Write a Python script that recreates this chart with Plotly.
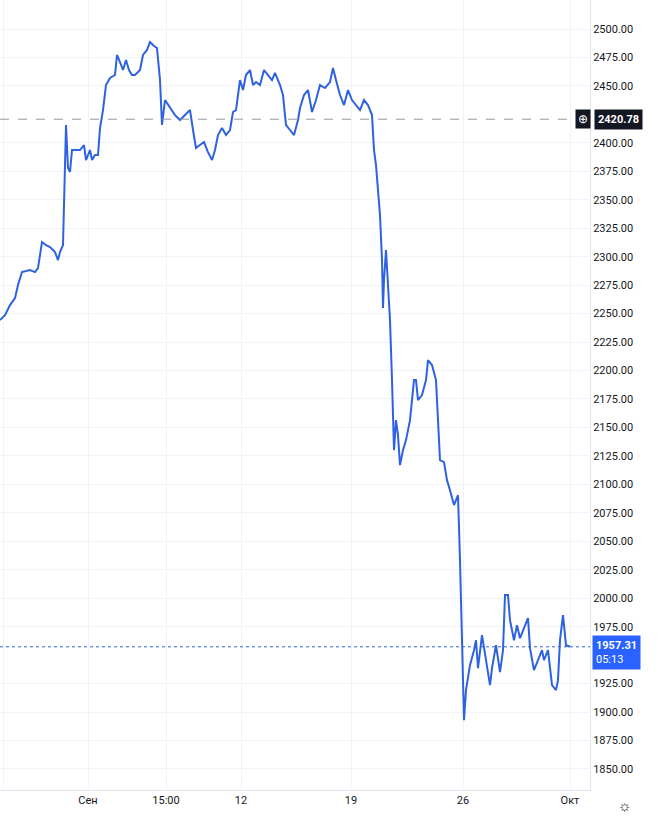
import plotly.graph_objects as go

bar_idx = [0,5,10,15,18,22,30,35,38,42,46,50,55,58,60,63,66,68,70,72,76,80,84,86,90,92,95,98,100,103,106,110,115,117,120,123,126,129,132,135,140,143,147,150,154,157,160,162,165,170,175,180,185,190,193,196,200,204,208,212,215,218,222,226,230,233,236,240,243,246,250,253,256,260,264,268,272,275,280,283,286,290,294,298,300,304,308,312,316,320,325,330,333,336,340,344,348,352,356,360,364,368,372,374,376,378,380,382,383,384,386,388,390,392,394,396,398,400,403,406,410,414,416,418,422,426,428,432,436,438,440,444,447,450,454,456,458,460,462,464,466,470,474,476,478,482,486,490,492,496,500,503,505,508,510,514,517,520,524,528,530,534,538,542,544,548,552,556,558,560,563,566,570]
close = [2244.3,2248.7,2257.5,2263.6,2275.1,2286.5,2288.3,2286.5,2290.0,2312.9,2310.2,2308.5,2304.1,2297.0,2304.1,2310.2,2415.7,2377.9,2374.4,2393.7,2393.7,2393.7,2398.1,2384.9,2393.7,2384.9,2389.3,2389.3,2413.0,2428.8,2450.8,2457.0,2459.6,2477.2,2471.0,2464.0,2472.8,2464.0,2459.6,2459.6,2464.0,2477.2,2481.6,2488.6,2485.1,2483.3,2455.2,2415.7,2437.6,2430.6,2424.4,2420.1,2424.4,2428.8,2411.3,2395.5,2398.1,2400.7,2391.9,2384.9,2393.7,2406.9,2413.0,2406.9,2411.3,2427.1,2428.8,2455.2,2446.4,2459.6,2464.0,2450.8,2453.4,2450.8,2464.0,2459.6,2455.2,2461.4,2450.8,2442.0,2415.7,2411.3,2406.9,2420.1,2430.6,2442.0,2446.4,2427.1,2437.6,2450.8,2448.2,2453.4,2465.7,2455.2,2442.0,2433.2,2446.4,2437.6,2433.2,2428.8,2437.6,2433.2,2424.4,2393.7,2380.5,2358.5,2336.6,2297.0,2254.9,2279.5,2305.8,2275.1,2244.3,2191.6,2130.1,2156.4,2143.3,2116.9,2130.1,2138.9,2156.4,2191.6,2191.6,2174.0,2178.4,2191.6,2209.2,2204.8,2191.6,2156.4,2121.3,2119.5,2103.7,2094.9,2081.8,2086.1,2090.5,2033.4,1954.3,1892.8,1919.2,1941.2,1954.3,1963.1,1938.5,1967.5,1945.6,1923.6,1938.5,1958.7,1935.0,1954.3,2002.7,2002.7,1980.7,1963.1,1976.3,1964.9,1973.7,1982.5,1956.1,1936.8,1945.6,1954.3,1945.6,1954.3,1923.6,1919.2,1928.0,1963.1,1985.1,1958.7,1957.31]
tick_pos = [3,88,166,241,351,463,570]
tick_text = ["6","Сен","15:00","12","19","26","Окт"]
y_ticks = [v for v in range(1850, 2526, 25) if v not in (1950, 2425)]
last_price = 1957.31
ref_price = 2420.78

fig = go.Figure()
fig.add_trace(go.Scatter(x=bar_idx, y=close, mode="lines",
                         line=dict(color="#2f62e0", width=2), hoverinfo="skip"))
fig.add_hline(y=ref_price, line=dict(color="#9598a1", width=1, dash="dash"))
fig.add_hline(y=last_price, line=dict(color="#2f62e0", width=1, dash="dot"))
fig.update_layout(
    width=658, height=820, margin=dict(l=0, r=68, t=0, b=30, autoexpand=False),
    paper_bgcolor="white", plot_bgcolor="white", showlegend=False,
    font=dict(family="Roboto", size=11, color="#131722"),
    xaxis=dict(range=[0, 590], tickvals=tick_pos, ticktext=tick_text,
               showgrid=True, gridcolor="#f0f3fa", zeroline=False, ticks="",
               showline=True, linecolor="#e0e3eb", automargin=False),
    yaxis=dict(range=[1831.5, 2525.5], side="right", tickvals=y_ticks,
               tickformat=".2f", showgrid=True, gridcolor="#f0f3fa", automargin=False,
               zeroline=False, ticks="", showline=True, linecolor="#e0e3eb"),
)
fig.add_annotation(x=1, xref="paper", xanchor="left", xshift=4, y=ref_price,
                   text="<b>%.2f</b>" % ref_price, showarrow=False, bgcolor="#131722",
                   font=dict(color="white", size=11), borderpad=3)
fig.add_annotation(x=1, xref="paper", xanchor="center", xshift=-7, y=ref_price,
                   text="⊕", showarrow=False, bgcolor="#131722",
                   font=dict(color="white", size=12), borderpad=2)
fig.add_annotation(x=1, xref="paper", xanchor="left", xshift=2, y=last_price,
                   yshift=-6, text="<b>%.2f</b><br>05:13" % last_price, showarrow=False,
                   bgcolor="#2962ff", align="left",
                   font=dict(color="white", size=11), borderpad=3)
fig.add_annotation(x=1, xref="paper", xanchor="left", xshift=26, y=0, yref="paper",
                   yanchor="top", yshift=-5, text="☼", showarrow=False,
                   font=dict(size=15, color="#131722"))
fig.write_html("out.html", config={"displayModeBar": False},
               post_script="document.body.style.margin='0px';")
